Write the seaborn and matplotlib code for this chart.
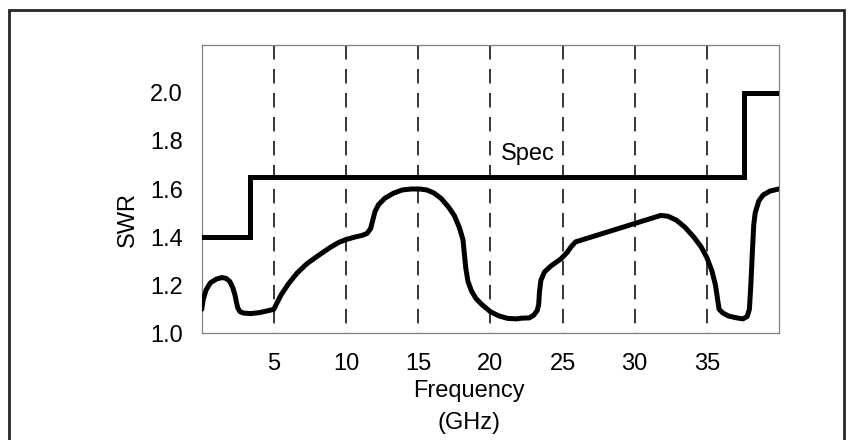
import matplotlib
matplotlib.use("Agg")
import matplotlib.pyplot as plt
from matplotlib.patches import Rectangle
import pandas as pd
import seaborn as sns

# Measured SWR versus frequency (GHz)
freq_ghz = [0.0, 0.1, 0.3, 0.6, 1.0, 1.4, 1.7, 1.95, 2.15, 2.3, 2.4, 2.5, 2.65,
            2.9, 3.4, 4.0, 4.6, 5.0, 5.2, 5.5, 6.0, 6.6, 7.3, 8.0, 8.9, 9.5,
            10.0, 10.6, 11.1, 11.45, 11.7, 11.85, 12.0, 12.25, 12.7, 13.3,
            13.9, 14.5, 15.1, 15.6, 16.1, 16.6, 17.1, 17.5, 17.85, 18.1, 18.2,
            18.3, 18.45, 18.7, 19.0, 19.4, 20.0, 20.6, 21.2, 21.8, 22.2, 22.7,
            23.0, 23.25, 23.35, 23.4, 23.5, 23.75, 24.2, 24.9, 25.3, 25.6,
            25.9, 31.8, 32.3, 32.9, 33.5, 34.1, 34.6, 35.0, 35.35, 35.6, 35.75,
            35.85, 36.1, 36.5, 37.0, 37.5, 37.8, 37.95, 38.05, 38.15, 38.25,
            38.35, 38.6, 38.9, 39.4, 40.0]
swr = [1.10, 1.14, 1.18, 1.21, 1.225, 1.232, 1.228, 1.215, 1.19, 1.16, 1.13,
       1.105, 1.09, 1.084, 1.082, 1.086, 1.094, 1.10, 1.125, 1.16, 1.205,
       1.25, 1.29, 1.32, 1.357, 1.378, 1.39, 1.40, 1.407, 1.415, 1.435, 1.47,
       1.505, 1.535, 1.562, 1.583, 1.596, 1.60, 1.60, 1.596, 1.583, 1.56,
       1.525, 1.49, 1.44, 1.39, 1.33, 1.27, 1.215, 1.175, 1.145, 1.12, 1.09,
       1.072, 1.062, 1.06, 1.063, 1.064, 1.075, 1.095, 1.12, 1.17, 1.22,
       1.255, 1.28, 1.31, 1.335, 1.36, 1.38, 1.49, 1.487, 1.47, 1.44, 1.40,
       1.36, 1.315, 1.26, 1.20, 1.14, 1.10, 1.085, 1.072, 1.065, 1.06, 1.07,
       1.10, 1.20, 1.33, 1.45, 1.50, 1.55, 1.575, 1.592, 1.60]

# Specification limit: step function (band edges and SWR limit per band)
spec_edges = [0.0, 3.35, 37.55, 40.0]
spec_limits = [1.4, 1.65, 2.0]

x_ticks = [5, 10, 15, 20, 25, 30, 35]
y_ticks = [1.0, 1.2, 1.4, 1.6, 1.8, 2.0]

sns.set_theme(style="white")
plt.rcParams["font.family"] = ["Liberation Sans", "DejaVu Sans"]

FS = 17

fig = plt.figure(figsize=(8.48, 4.40), dpi=100)
ax = fig.add_axes([0.2379, 0.2425, 0.6807, 0.6559])

df_swr = pd.DataFrame({"freq": freq_ghz, "swr": swr})
df_spec = pd.DataFrame({"freq": spec_edges,
                        "limit": spec_limits + [spec_limits[-1]]})

# dashed frequency grid
ax.vlines(x_ticks, 2.2, 1.0, colors="black", linewidth=1.1,
          linestyles=[(0, (9.5, 6.2))], zorder=1)

sns.lineplot(data=df_spec, x="freq", y="limit", ax=ax, sort=False,
             drawstyle="steps-post", color="black", linewidth=3.6,
             solid_joinstyle="miter", solid_capstyle="projecting", zorder=3)
sns.lineplot(data=df_swr, x="freq", y="swr", ax=ax, sort=False,
             color="black", linewidth=3.6, solid_joinstyle="round",
             solid_capstyle="round", zorder=3)

ax.text(22.6, 1.721, "Spec", ha="center", va="baseline", fontsize=FS,
        color="black")

ax.set_xlim(0, 40)
ax.set_ylim(1.0, 2.2)
ax.set_xticks(x_ticks)
ax.set_xticklabels([str(t) for t in x_ticks])
ax.set_yticks(y_ticks)
ax.set_yticklabels([f"{t:.1f}" for t in y_ticks])

ax.tick_params(axis="x", direction="in", length=9, width=0.8, color="#707070",
               labelsize=FS, pad=14, labelcolor="black")
ax.tick_params(axis="y", direction="in", length=17, width=0.8, color="#707070",
               labelsize=FS, pad=13.5, labelcolor="black")

for side in ["left", "right", "top", "bottom"]:
    ax.spines[side].set_visible(True)
    ax.spines[side].set_color("#808080")
    ax.spines[side].set_linewidth(0.9)

ax.set_xlabel("Frequency\n(GHz)", fontsize=FS, linespacing=1.55,
              va="top", color="black")
ax.xaxis.set_label_coords(0.463, -0.163)
ax.set_ylabel("SWR", fontsize=FS, va="center", color="black")
ax.yaxis.set_label_coords(-0.128, 0.393)

# frame around the whole figure
fig.patches.append(Rectangle((0.0112, -0.05), 0.9844, 0.9784 + 0.05,
                             transform=fig.transFigure, fill=False,
                             edgecolor="#262626", linewidth=2.0))

fig.savefig("out.png", dpi=100, facecolor="white")
